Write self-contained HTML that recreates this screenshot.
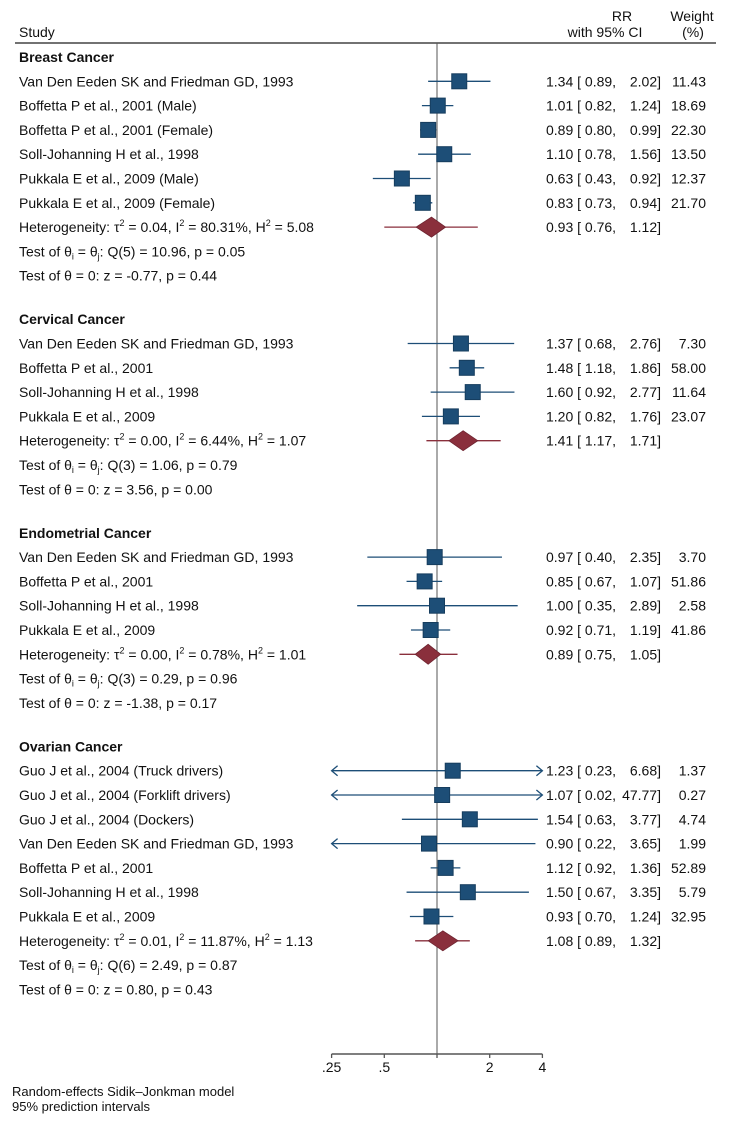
<!DOCTYPE html>
<html><head><meta charset="utf-8">
<style>
html,body{margin:0;padding:0;background:#fff;}
svg{display:block;font-family:"Liberation Sans",Arial,sans-serif;}
</style></head>
<body>
<svg id="plot" width="736" height="1124" viewBox="0 0 736 1124" xmlns="http://www.w3.org/2000/svg">
<rect width="736" height="1124" fill="#fff"/>
<g font-size="14" fill="#111">
<text x="19" y="37">Study</text>
<text x="622" y="21" text-anchor="middle">RR</text>
<text x="605" y="37" text-anchor="middle">with 95% CI</text>
<text x="692" y="21" text-anchor="middle">Weight</text>
<text x="693" y="37" text-anchor="middle">(%)</text>
<line x1="15" y1="43" x2="716" y2="43" stroke="#444" stroke-width="1.5"/>
</g>
<g id="marks"></g>
<g id="txt" font-size="14" fill="#111"></g>
<g id="axis"></g>
<text x="12" y="1096" font-size="13" fill="#111">Random-effects Sidik–Jonkman model</text>
<text x="12" y="1111" font-size="13" fill="#111">95% prediction intervals</text>
</svg>
<script>
// ---- data ----
const sectionNames = ["Breast Cancer","Cervical Cancer","Endometrial Cancer","Ovarian Cancer"];
const breastStudies = ["Van Den Eeden SK and Friedman GD, 1993","Boffetta P et al., 2001 (Male)","Boffetta P et al., 2001 (Female)","Soll-Johanning H et al., 1998","Pukkala E et al., 2009 (Male)","Pukkala E et al., 2009 (Female)"];
const breastRR = [1.34,1.01,0.89,1.10,0.63,0.83];
const breastLo = [0.89,0.82,0.80,0.78,0.43,0.73];
const breastHi = [2.02,1.24,0.99,1.56,0.92,0.94];
const breastW = ["11.43","18.69","22.30","13.50","12.37","21.70"];
const cervStudies = ["Van Den Eeden SK and Friedman GD, 1993","Boffetta P et al., 2001","Soll-Johanning H et al., 1998","Pukkala E et al., 2009"];
const cervRR = [1.37,1.48,1.60,1.20];
const cervLo = [0.68,1.18,0.92,0.82];
const cervHi = [2.76,1.86,2.77,1.76];
const cervW = ["7.30","58.00","11.64","23.07"];
const endoStudies = ["Van Den Eeden SK and Friedman GD, 1993","Boffetta P et al., 2001","Soll-Johanning H et al., 1998","Pukkala E et al., 2009"];
const endoRR = [0.97,0.85,1.00,0.92];
const endoLo = [0.40,0.67,0.35,0.71];
const endoHi = [2.35,1.07,2.89,1.19];
const endoW = ["3.70","51.86","2.58","41.86"];
const ovaStudies = ["Guo J et al., 2004 (Truck drivers)","Guo J et al., 2004 (Forklift drivers)","Guo J et al., 2004 (Dockers)","Van Den Eeden SK and Friedman GD, 1993","Boffetta P et al., 2001","Soll-Johanning H et al., 1998","Pukkala E et al., 2009"];
const ovaRR = [1.23,1.07,1.54,0.90,1.12,1.50,0.93];
const ovaLo = [0.23,0.02,0.63,0.22,0.92,0.67,0.70];
const ovaHi = [6.68,47.77,3.77,3.65,1.36,3.35,1.24];
const ovaW = ["1.37","0.27","4.74","1.99","52.89","5.79","32.95"];
const pooledRR = [0.93,1.41,0.89,1.08];
const pooledLo = [0.76,1.17,0.75,0.89];
const pooledHi = [1.12,1.71,1.05,1.32];
const predLo = [0.50,0.87,0.61,0.75];
const predHi = [1.71,2.31,1.31,1.54];
const hetTau = ["0.04","0.00","0.00","0.01"];
const hetI = ["80.31%","6.44%","0.78%","11.87%"];
const hetH = ["5.08","1.07","1.01","1.13"];
const qText = ["Q(5) = 10.96, p = 0.05","Q(3) = 1.06, p = 0.79","Q(3) = 0.29, p = 0.96","Q(6) = 2.49, p = 0.87"];
const zText = ["z = -0.77, p = 0.44","z = 3.56, p = 0.00","z = -1.38, p = 0.17","z = 0.80, p = 0.43"];
const tickVals = [0.25,0.5,1,2,4];
const tickLabels = [".25",".5","","2","4"];

const sections = [
 [breastStudies,breastRR,breastLo,breastHi,breastW],
 [cervStudies,cervRR,cervLo,cervHi,cervW],
 [endoStudies,endoRR,endoLo,endoHi,endoW],
 [ovaStudies,ovaRR,ovaLo,ovaHi,ovaW]];

// ---- scales ----
const X0 = 437, PX = 52.7, XMIN = 0.25, XMAX = 4;
function xs(v){return X0 + Math.log2(v)*PX;}
const NS="http://www.w3.org/2000/svg";
const marks=document.getElementById('marks'), txt=document.getElementById('txt'), axis=document.getElementById('axis');
function mk(tag,attrs,parent){const e=document.createElementNS(NS,tag);for(const k in attrs)e.setAttribute(k,attrs[k]);parent.appendChild(e);return e;}
function fmt(v){return v.toFixed(2);}
const BLUE="#1d4e77", RED="#8a2f3c";

// reference line
const ref=mk('line',{x1:xs(1),y1:43,x2:xs(1),y2:1054,stroke:"#555","stroke-width":1},marks);



function ciText(y,rr,lo,hi,w,name){
  const t1=mk('text',{x:546,y:y+5},txt); t1.textContent=fmt(rr)+" [ "+fmt(lo)+",";
  
  
  const t2=mk('text',{x:661,y:y+5,"text-anchor":"end"},txt); t2.textContent=fmt(hi)+"]";
  
  
  if(w!==null){const t3=mk('text',{x:706,y:y+5,"text-anchor":"end"},txt); t3.textContent=w;
  
  }
}
function arrowHead(x,y,dir){
  const p=mk('path',{d:`M${x+dir*(-6)},${y-5} L${x},${y} L${x+dir*(-6)},${y+5}`,fill:"none",stroke:BLUE,"stroke-width":1.3},marks);
  
  
}

let y=57;
sections.forEach((s,si)=>{
  const [names,rr,lo,hi,w]=s;
  const h=mk('text',{x:19,y:y+5,"font-weight":"bold"},txt); h.textContent=sectionNames[si];
  
  
  y+=24.3;
  names.forEach((n,i)=>{
    const t=mk('text',{x:19,y:y+5},txt); t.textContent=n;
    
    
    const l=Math.max(lo[i],XMIN), u=Math.min(hi[i],XMAX);
    const ln=mk('line',{x1:xs(l),y1:y,x2:xs(u),y2:y,stroke:BLUE,"stroke-width":1.3},marks);
    
    
    if(lo[i]<XMIN) arrowHead(xs(XMIN),y,-1);
    if(hi[i]>XMAX) arrowHead(xs(XMAX),y,1);
    const sq=mk('rect',{x:xs(rr[i])-7.5,y:y-7.5,width:15,height:15,fill:BLUE,stroke:"#163d5e","stroke-width":1},marks);
    
    
    ciText(y,rr[i],lo[i],hi[i],w[i],'study');
    y+=24.3;
  });
  // pooled
  const pl=mk('line',{x1:xs(predLo[si]),y1:y,x2:xs(predHi[si]),y2:y,stroke:RED,"stroke-width":1.3},marks);
  
  
  const a=xs(pooledLo[si]), b=xs(pooledHi[si]), c=xs(pooledRR[si]);
  const d=mk('polygon',{points:`${a},${y} ${c},${y-10} ${b},${y} ${c},${y+10}`,fill:RED,stroke:"#6e2430","stroke-width":0.8},marks);
  
  
  const het=mk('text',{x:19,y:y+5},txt);
  het.innerHTML=`Heterogeneity: τ<tspan dy="-6" font-size="9">2</tspan><tspan dy="6"> = ${hetTau[si]}, I</tspan><tspan dy="-6" font-size="9">2</tspan><tspan dy="6"> = ${hetI[si]}, H</tspan><tspan dy="-6" font-size="9">2</tspan><tspan dy="6"> = ${hetH[si]}</tspan>`;
  
  
  ciText(y,pooledRR[si],pooledLo[si],pooledHi[si],null,'pooled');
  y+=24.3;
  const q=mk('text',{x:19,y:y+5},txt);
  q.innerHTML=`Test of θ<tspan dy="3" font-size="9">i</tspan><tspan dy="-3"> = θ</tspan><tspan dy="3" font-size="9">j</tspan><tspan dy="-3">: ${qText[si]}</tspan>`;
  
  
  y+=24.3;
  const z=mk('text',{x:19,y:y+5},txt); z.textContent="Test of θ = 0: "+zText[si];
  
  
  y+=43.5;
});

// axis
const ax=mk('line',{x1:xs(XMIN),y1:1054,x2:xs(XMAX),y2:1054,stroke:"#555","stroke-width":1.5},axis);


tickVals.forEach((v,i)=>{
  const tk=mk('line',{x1:xs(v),y1:1054,x2:xs(v),y2:1058,stroke:"#555","stroke-width":1.3},axis);
  
  
  if(tickLabels[i]){
    const tl=mk('text',{x:xs(v),y:1072,"text-anchor":"middle","font-size":14,fill:"#111"},axis);
    tl.textContent=tickLabels[i];
    
    
  }
});
</script>
</body></html>
